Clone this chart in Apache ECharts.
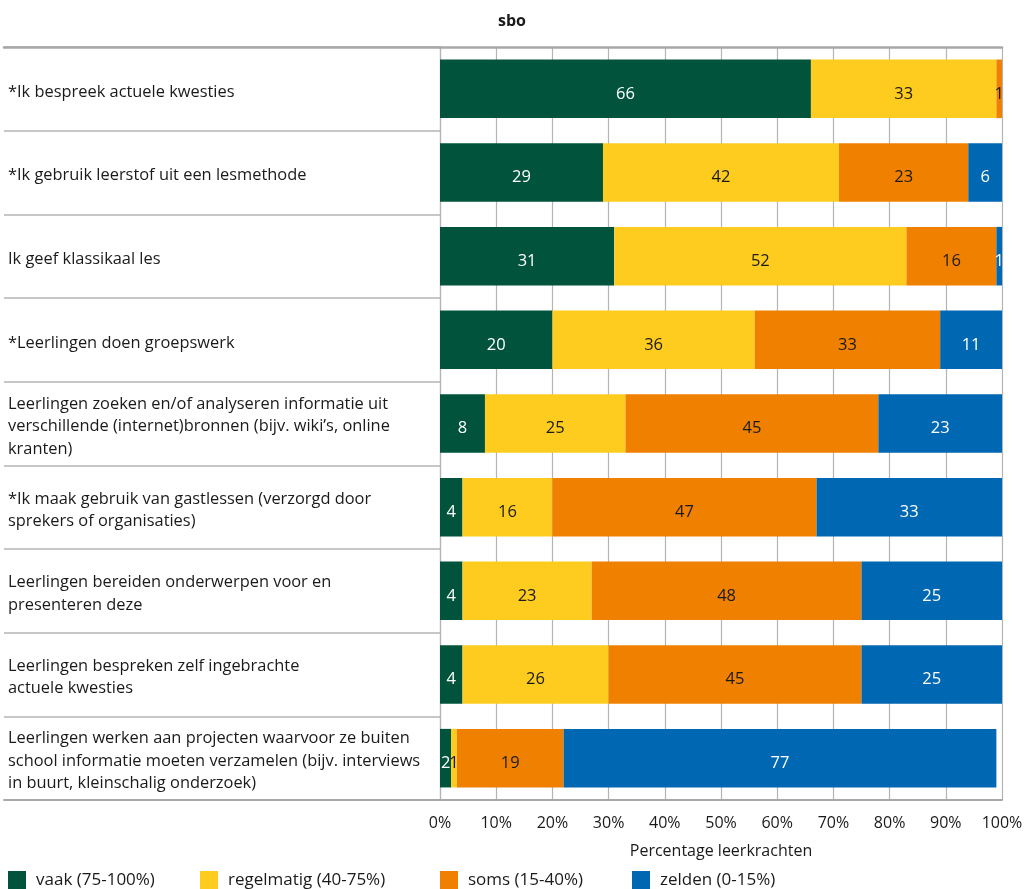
<!DOCTYPE html>
<html>
<head>
<meta charset="utf-8">
<script src="https://cdn.jsdelivr.net/npm/echarts@6/dist/echarts.min.js"></script>
<style>
  html, body { margin: 0; padding: 0; background: #ffffff; }
  #chart { width: 1028px; height: 889px; }
</style>
</head>
<body>
<div id="chart"></div>
<script>
// Statements (top to bottom), wrapped as they appear in the label column
const categories = [
  '*Ik bespreek actuele kwesties',
  '*Ik gebruik leerstof uit een lesmethode',
  'Ik geef klassikaal les',
  '*Leerlingen doen groepswerk',
  'Leerlingen zoeken en/of analyseren informatie uit\nverschillende (internet)bronnen (bijv. wiki\u2019s, online\nkranten)',
  '*Ik maak gebruik van gastlessen (verzorgd door\nsprekers of organisaties)',
  'Leerlingen bereiden onderwerpen voor en\npresenteren deze',
  'Leerlingen bespreken zelf ingebrachte\nactuele kwesties',
  'Leerlingen werken aan projecten waarvoor ze buiten\nschool informatie moeten verzamelen (bijv. interviews\nin buurt, kleinschalig onderzoek)'
];

// Share of teachers per frequency class (%)
const vaak       = [66, 29, 31, 20,  8,  4,  4,  4,  2];
const regelmatig = [33, 42, 52, 36, 25, 16, 23, 26,  1];
const soms       = [ 1, 23, 16, 33, 45, 47, 48, 45, 19];
const zelden     = [ 0,  6,  1, 11, 23, 33, 25, 25, 77];

const seriesNames = ['vaak (75-100%)', 'regelmatig (40-75%)', 'soms (15-40%)', 'zelden (0-15%)'];
const xTicks = [0, 10, 20, 30, 40, 50, 60, 70, 80, 90, 100];

const COLORS = ['#01543b', '#fecc1f', '#ef8000', '#0067b2'];
const LABEL_COLORS = ['#ffffff', '#1a1a1a', '#1a1a1a', '#ffffff'];
const FONT = '"Open Sans", "Noto Sans", sans-serif';
const TEXT = '#1a1a1a';
const RULE = '#a8a8a8';
const GRIDLINE = '#b4b4b4';

const values = [vaak, regelmatig, soms, zelden];

const chart = echarts.init(document.getElementById('chart'));

const series = seriesNames.map((name, i) => ({
  name: name,
  type: 'bar',
  stack: 'total',
  xAxisIndex: 0,
  yAxisIndex: 0,
  barCategoryGap: '30%',
  data: values[i],
  itemStyle: { color: COLORS[i] },
  label: {
    show: true,
    position: 'inside',
    offset: [0, 5],
    fontFamily: FONT,
    fontSize: 16.5,
    color: LABEL_COLORS[i],
    formatter: p => (p.value === 0 ? '' : String(p.value))
  },
  emphasis: { disabled: true }
}));

const legendLefts = [8, 200, 440, 632];
const legends = seriesNames.map((name, i) => ({
  data: [name],
  left: legendLefts[i],
  top: 871,
  padding: 0,
  icon: 'rect',
  itemWidth: 18,
  itemHeight: 18,
  selectedMode: false,
  textStyle: { fontFamily: FONT, fontSize: 17, color: TEXT, padding: [0, 0, 0, 5] }
}));

const hiddenValueAxis = (gridIndex, position) => ({
  type: 'value',
  gridIndex: gridIndex,
  position: position,
  min: 0, max: 1,
  axisLine: { show: true, lineStyle: { color: RULE, width: position === 'top' ? 2.5 : 2 } },
  axisTick: { show: false },
  axisLabel: { show: false },
  splitLine: { show: false }
});

chart.setOption({
  animation: false,
  backgroundColor: '#ffffff',
  title: {
    text: 'sbo',
    left: 507,
    textAlign: 'center',
    top: 8,
    textStyle: { fontFamily: FONT, fontSize: 16, fontWeight: 'bold', color: TEXT }
  },
  legend: legends,
  grid: [
    // bars
    { left: 440, right: 26, top: 47, bottom: 89 },
    // label column with row separators
    { left: 4, right: 588, top: 47, bottom: 89 },
    // statement texts, sitting a little below the row centres
    { left: 440, right: 26, top: 50, bottom: 86 }
  ],
  xAxis: [
    {
      type: 'value',
      gridIndex: 0,
      min: xTicks[0],
      max: xTicks[xTicks.length - 1],
      interval: 10,
      name: 'Percentage leerkrachten',
      nameLocation: 'middle',
      nameGap: 43,
      nameTextStyle: { fontFamily: FONT, fontSize: 16, color: TEXT },
      axisLine: { show: true, lineStyle: { color: RULE, width: 2 } },
      axisTick: { show: false },
      axisLabel: {
        fontFamily: FONT, fontSize: 16, color: TEXT, margin: 15,
        formatter: v => v + '%'
      },
      splitLine: { show: true, lineStyle: { color: GRIDLINE, width: 1.2 } }
    },
    {
      type: 'value',
      gridIndex: 0,
      position: 'top',
      min: 0, max: 100,
      axisLine: { show: true, lineStyle: { color: RULE, width: 2.5 } },
      axisTick: { show: false },
      axisLabel: { show: false },
      splitLine: { show: false }
    },
    hiddenValueAxis(1, 'bottom'),
    hiddenValueAxis(1, 'top'),
    {
      type: 'value',
      gridIndex: 2,
      min: 0, max: 1,
      show: false
    }
  ],
  yAxis: [
    {
      type: 'category',
      gridIndex: 0,
      inverse: true,
      data: categories,
      axisLine: { show: true, lineStyle: { color: GRIDLINE, width: 1.2 } },
      axisTick: { show: false },
      axisLabel: { show: false },
      splitLine: { show: false }
    },
    {
      type: 'category',
      gridIndex: 1,
      inverse: true,
      data: categories,
      axisLine: { show: false },
      axisTick: { show: false },
      axisLabel: { show: false },
      splitLine: { show: true, lineStyle: { color: GRIDLINE, width: 1.5 } }
    },
    {
      type: 'category',
      gridIndex: 2,
      inverse: true,
      data: categories,
      axisLine: { show: false },
      axisTick: { show: false },
      axisLabel: {
        fontFamily: FONT, fontSize: 16.4, color: TEXT,
        align: 'left', margin: 432, lineHeight: 22.5
      },
      splitLine: { show: false }
    }
  ],
  series: series
});
</script>
</body>
</html>
